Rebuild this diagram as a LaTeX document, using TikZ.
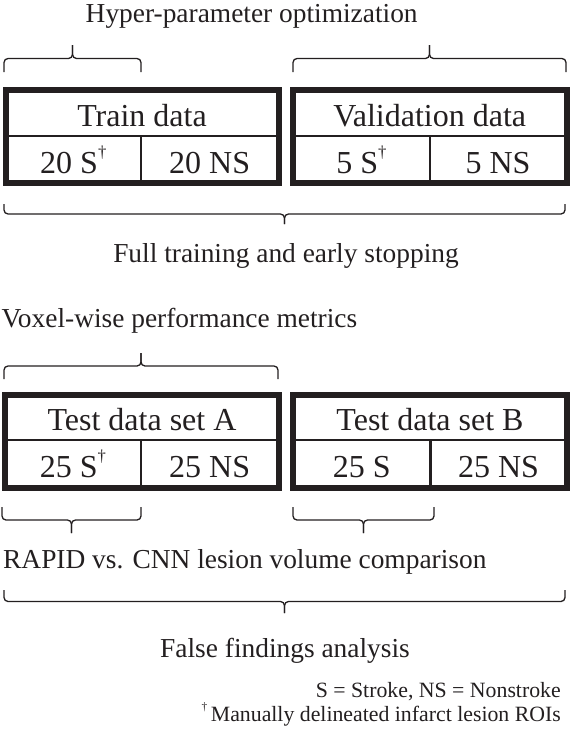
\documentclass[tikz,border=0pt]{standalone}
\usepackage{fontspec}
\setmainfont{Liberation Serif}
\usepackage{graphicx}
\usepackage{tikz}

\definecolor{ink}{RGB}{35,31,32}
\newcommand{\dg}{\raisebox{.5em}{\scalebox{.52}{\textdagger}}}
% brace: left x, right x, y of the ends, signed height to the tip
\newcommand{\databrace}[4]{%
  \draw[brc] (#1,#3) |- ({(#1+#2)/2},{#3+#4/2}) -- ({(#1+#2)/2},{#3+#4});
  \draw[brc] (#2,#3) |- ({(#1+#2)/2},{#3+#4/2}) -- ({(#1+#2)/2},{#3+#4});}

\begin{document}
\begin{tikzpicture}[x=1pt,y=-1pt,
    frame/.style={draw=ink,line width=6pt},
    divider/.style={draw=ink,line width=2.4pt},
    brc/.style={draw=ink,line width=1.3pt,rounded corners=4pt},
    lbl/.style={text=ink,inner sep=0pt,anchor=base,font=\fontsize{27.4}{32}\selectfont},
    boxtxt/.style={text=ink,inner sep=0pt,anchor=base,font=\fontsize{32}{36}\selectfont},
    note/.style={text=ink,inner sep=0pt,anchor=base east,font=\fontsize{21.8}{25}\selectfont}]
  \useasboundingbox (0,0) rectangle (574,736);

  % top row
  \node[lbl] (hyper) at (251.7,23) {Hyper-parameter optimization};
  \databrace{4}{141}{72}{-27}
  \databrace{293}{566}{72}{-27}
  \draw[frame] (5.5,90) rectangle (278.5,182.5);
  \draw[divider] (5.5,136)--(278.5,136) (141,136)--(141,182.5);
  \node[boxtxt] (train) at (142,126) {Train data};
  \node[boxtxt] (trainS) at (73.3,173) {20 S\dg};
  \node[boxtxt] (trainNS) at (209.7,173) {20 NS};
  \draw[frame] (293,90) rectangle (566.5,182.5);
  \draw[divider] (293,136)--(566.5,136) (430,136)--(430,182.5);
  \node[boxtxt] (valid) at (429.7,126) {Validation data};
  \node[boxtxt] (validS) at (361.5,173) {5 S\dg};
  \node[boxtxt] (validNS) at (498,173) {5 NS};
  \databrace{4}{565}{204}{20}
  \node[lbl] (full) at (286,262) {Full training and early stopping};

  % bottom row
  \node[lbl,anchor=base west] (voxel) at (1.5,327) {Voxel-wise performance metrics};
  \databrace{4}{278}{379}{-26}
  \draw[frame] (5,395) rectangle (278.5,487.5);
  \draw[divider] (5,440)--(278.5,440) (141,440)--(141,487.5);
  \node[boxtxt] (testA) at (142,430) {Test data set A};
  \node[boxtxt] (testAS) at (73,477) {25 S\dg};
  \node[boxtxt] (testANS) at (209.7,477) {25 NS};
  \draw[frame] (293.3,395) rectangle (566.7,487.5);
  \draw[divider] (293.3,440)--(566.7,440) (430.3,440)--(430.3,487.5);
  \node[boxtxt] (testB) at (430,430) {Test data set B};
  \node[boxtxt] (testBS) at (361.8,477) {25 S};
  \node[boxtxt] (testBNS) at (498.5,477) {25 NS};
  \databrace{2}{141}{507}{26}
  \databrace{293}{434}{507}{26}
  \node[lbl,anchor=base west] (rapid) at (3,568) {RAPID vs. CNN lesion volume comparison};
  \databrace{4}{565}{590}{23}
  \node[lbl] (false) at (285,657) {False findings analysis};

  \node[note] (note1) at (561,697) {S = Stroke, NS = Nonstroke};
  \node[note] (note2) at (561,721) {\dg\,Manually delineated infarct lesion ROIs};
\end{tikzpicture}
\end{document}
